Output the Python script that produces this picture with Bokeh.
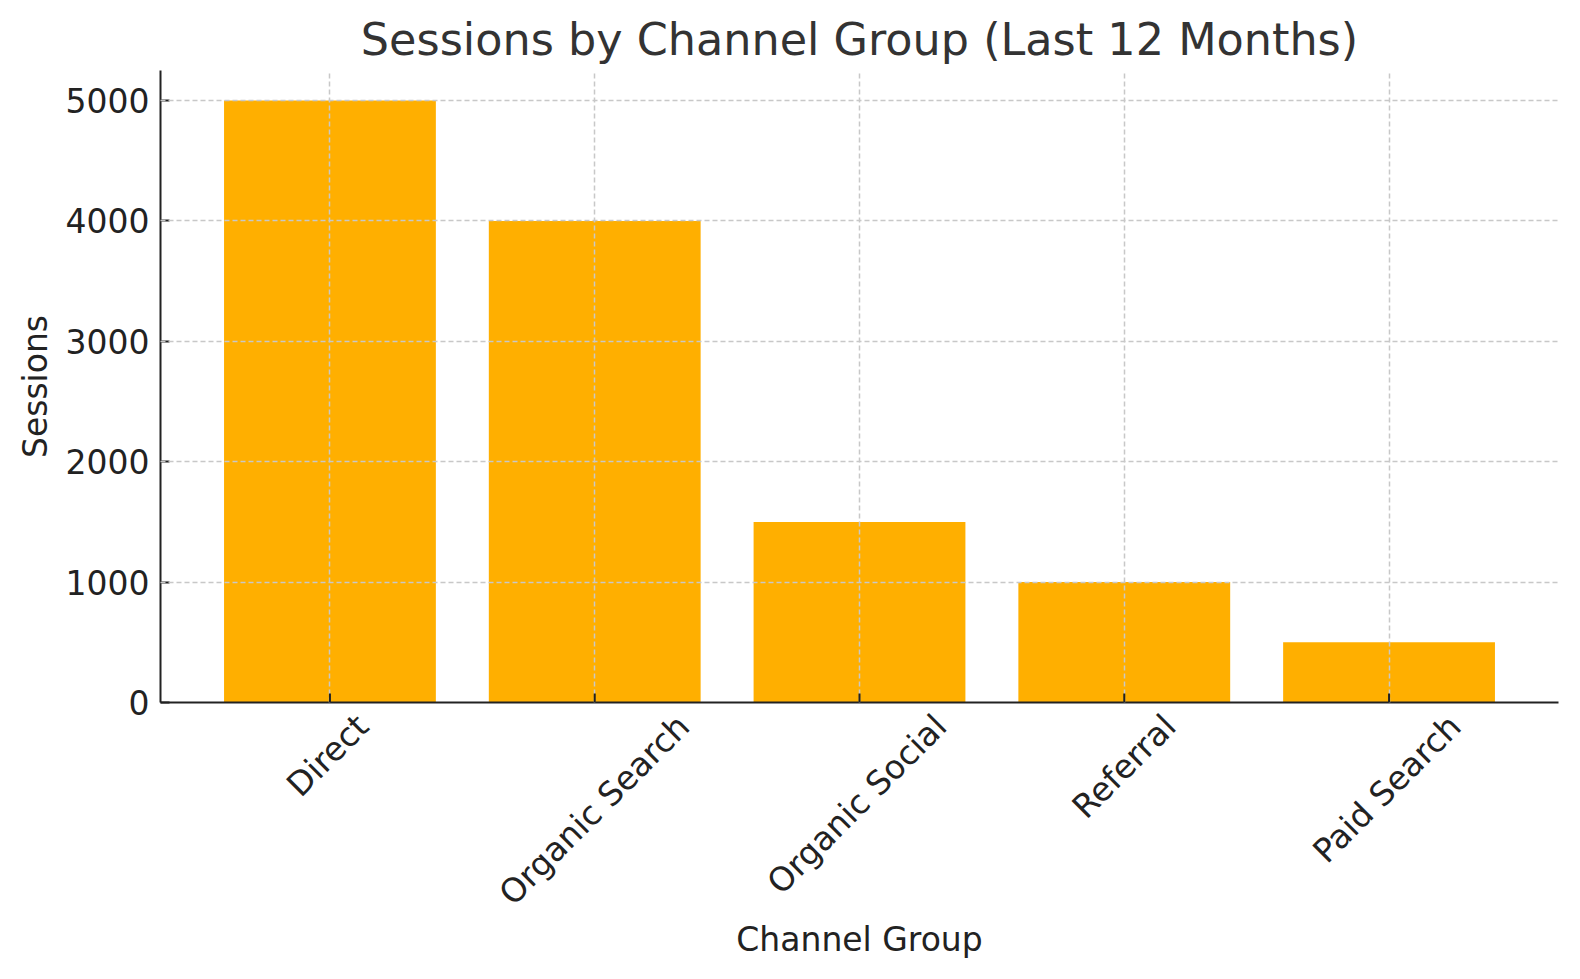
import math
from bokeh.plotting import figure
from bokeh.models import ColumnDataSource, FixedTicker, Range1d, CustomJSTickFormatter
from bokeh.embed import file_html
from bokeh.resources import INLINE

channels = ["Direct", "Organic Search", "Organic Social", "Referral", "Paid Search"]
sessions = [5000, 4000, 1500, 1000, 500]
y_ticks = [0, 1000, 2000, 3000, 4000, 5000]
# horizontal shift (data units) so each rotated label is centred under its bar
label_shift = [0.123, 0.335, 0.306, 0.172, 0.249]

FONT = "DejaVu Sans"
xs = list(range(len(channels)))
label_pos = [x + s for x, s in zip(xs, label_shift)]
y_max = max(sessions) * 1.05
frame_h = 979 - 70 - 277
tick_len = 9 * y_max / frame_h  # 9 px inward tick, in data units
src = ColumnDataSource(dict(x=xs, top=sessions, base=[0] * len(xs),
                            tick_top=[tick_len] * len(xs)))

p = figure(width=1580, height=979, output_backend="svg", toolbar_location=None,
           x_range=Range1d(-0.64, len(channels) - 1 + 0.64),
           y_range=Range1d(0, y_max),
           min_border_left=160, min_border_right=22, min_border_top=70, min_border_bottom=277)
p.outline_line_color = None
p.background_fill_color = "white"
p.border_fill_color = "white"

p.vbar(x="x", top="top", width=0.8, bottom=0, source=src, fill_color="#FFAF00", line_color=None)

p.title.text = "Sessions by Channel Group (Last 12 Months)"
p.title.align = "center"
p.title.text_font = FONT
p.title.text_font_size = "44.5px"
p.title.text_font_style = "normal"
p.title.text_color = "#333333"
p.title.standoff = 11

p.xgrid.ticker = FixedTicker(ticks=xs)
for g in (p.xgrid, p.ygrid):
    g.grid_line_color = "#c8c8c8"
    g.grid_line_dash = "5 3"
    g.grid_line_width = 1.5
    g.level = "annotation"

# inward x tick marks
p.segment(x0="x", y0="base", x1="x", y1="tick_top", source=src,
          line_color="#222222", line_width=2, level="overlay")

p.xaxis.ticker = FixedTicker(ticks=label_pos)
p.xaxis.formatter = CustomJSTickFormatter(args=dict(pos=label_pos, names=channels), code="""
let best = 0;
for (let i = 0; i < pos.length; i++) {
  if (Math.abs(pos[i] - tick) < Math.abs(pos[best] - tick)) best = i;
}
return names[best];
""")
p.xaxis.major_label_orientation = math.pi / 4
p.yaxis.ticker = FixedTicker(ticks=y_ticks)

for ax in (p.xaxis, p.yaxis):
    ax.axis_line_color = "#222222"
    ax.axis_line_width = 2
    ax.major_tick_line_color = "#222222"
    ax.major_tick_line_width = 2
    ax.major_tick_in = 9
    ax.major_tick_out = 0
    ax.minor_tick_line_color = None
    ax.major_label_text_font = FONT
    ax.major_label_text_font_size = "33px"
    ax.major_label_text_color = "#222222"
    ax.axis_label_text_font = FONT
    ax.axis_label_text_font_size = "33px"
    ax.axis_label_text_font_style = "normal"
    ax.axis_label_text_color = "#222222"

p.xaxis.major_tick_line_color = None
p.xaxis.major_label_standoff = 18
p.xaxis.axis_label = "Channel Group"
p.xaxis.axis_label_standoff = -9

p.yaxis.axis_label = "Sessions"
p.yaxis.major_label_standoff = 11
p.yaxis.axis_label_standoff = 8

open("out.html", "w").write(file_html(p, INLINE))
